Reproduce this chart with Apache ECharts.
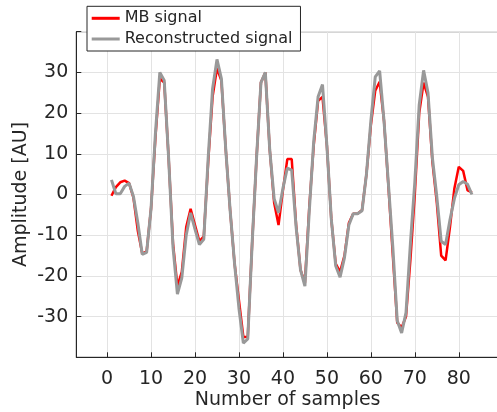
<!DOCTYPE html>
<html>
<head>
<meta charset="utf-8">
<script src="https://cdn.jsdelivr.net/npm/echarts@6/dist/echarts.min.js"></script>
<style>
html,body{margin:0;padding:0;background:#fff;}
#chart{width:497px;height:412px;}
</style>
</head>
<body>
<div id="chart"></div>
<script>
// Series names
const seriesNames = ['MB signal', 'Reconstructed signal'];
// MB signal values for samples 1..83
const mbSignal = [
  -0.3, 1.8, 3.0, 3.4, 2.8, -0.8, -9, -14.5, -14, -3.5,
  14, 28.5, 27.5, 9, -12, -22.5, -19, -8, -3.5, -7.5,
  -11.5, -10.3, 8, 24, 31, 28, 11, -4, -17, -26,
  -35, -35, -12, 9, 27.5, 30, 11, -2, -7.5, 1,
  8.7, 8.7, -7.5, -18.5, -21.7, -3, 12, 23, 24, 12,
  -6, -17, -19, -15, -7, -4.7, -4.7, -3.8, 5, 17,
  25.5, 27.7, 18, 2, -15, -31.5, -32.7, -30, -16, 0,
  20, 27.5, 24, 8, -2, -15, -16.2, -8, 1.5, 6.8,
  5.8, 1, 0.5
];
// Reconstructed signal values for samples 1..83
const reconSignal = [
  3.6, 0.2, 0.2, 2, 2.8, -0.5, -7, -14.7, -14.2, -3.5,
  15, 30, 28, 9, -13, -24.5, -20.5, -10, -4.5, -8.5,
  -12.3, -11, 9, 26, 33.2, 28.5, 11, -4, -17, -28,
  -36.5, -35.5, -12, 9, 27.5, 30, 11, -1, -4.5, 1.5,
  6.5, 6, -8, -18.5, -22.5, -4, 13, 24, 27, 12,
  -6, -17.5, -20.3, -15.5, -7.5, -4.7, -4.7, -4, 5, 18,
  28.9, 30.4, 18, 2.5, -13, -31, -34, -29, -12, 3,
  22, 30.5, 25, 9, -0.5, -11.5, -12.3, -6.2, -1, 2.4,
  3.2, 2.5, 0
];
// Tick labels
const xTicks = [0, 10, 20, 30, 40, 50, 60, 70, 80];
const yTicks = [-30, -20, -10, 0, 10, 20, 30];

const toPairs = arr => arr.map((v, i) => [i + 1, v]);
const font = 'DejaVu Sans';
const txt = '#262626';

const chart = echarts.init(document.getElementById('chart'), null, {renderer: 'canvas'});
chart.setOption({
  animation: false,
  backgroundColor: '#fff',
  grid: {
    left: 76.3, top: 31.7, right: -2, bottom: 54.7,
    outerBoundsMode: 'none', containLabel: false,
    show: true, borderColor: '#262626', borderWidth: 1, backgroundColor: '#fff'
  },
  legend: {
    orient: 'vertical',
    left: 87, top: 6.3,
    padding: [3, 8, 3, 4.7],
    itemGap: 2.7,
    itemWidth: 28, itemHeight: 3,
    backgroundColor: '#fff',
    borderColor: '#262626', borderWidth: 1, borderRadius: 0,
    textStyle: {fontFamily: font, fontSize: 16, color: txt, lineHeight: 18},
    data: [
      {name: seriesNames[0], icon: 'rect', itemStyle: {color: '#ff0000'}},
      {name: seriesNames[1], icon: 'rect', itemStyle: {color: '#999999'}}
    ]
  },
  xAxis: {
    type: 'value', min: -7, max: 89.15,
    name: 'Number of samples', nameLocation: 'middle', nameGap: 33,
    nameMoveOverlap: false,
    nameTextStyle: {fontFamily: font, fontSize: 19, color: txt},
    axisLine: {show: true, onZero: false, lineStyle: {color: '#262626', width: 1}},
    axisTick: {show: true, inside: true, length: 5, customValues: xTicks, lineStyle: {color: '#262626'}},
    axisLabel: {customValues: xTicks, fontFamily: font, fontSize: 19, color: txt, margin: 12},
    splitLine: {show: true, lineStyle: {color: '#e3e3e3', width: 1}}
  },
  yAxis: {
    type: 'value', min: -40, max: 40, interval: 10,
    name: 'Amplitude [AU]', nameLocation: 'middle', nameGap: 46,
    nameMoveOverlap: false,
    nameTextStyle: {fontFamily: font, fontSize: 19, color: txt},
    axisLine: {show: true, onZero: false, lineStyle: {color: '#262626', width: 1}},
    axisTick: {show: true, inside: true, length: 5, lineStyle: {color: '#262626'}},
    axisLabel: {
      fontFamily: font, fontSize: 19, color: txt, margin: 8,
      formatter: v => (yTicks.indexOf(v) >= 0 ? String(v) : '')
    },
    splitLine: {show: true, lineStyle: {color: '#e3e3e3', width: 1}}
  },
  series: [
    {
      name: seriesNames[0], type: 'line', data: toPairs(mbSignal),
      showSymbol: false, symbol: 'none',
      lineStyle: {color: '#ff0000', width: 2.5}, itemStyle: {color: '#ff0000'}
    },
    {
      name: seriesNames[1], type: 'line', data: toPairs(reconSignal),
      showSymbol: false, symbol: 'none',
      lineStyle: {color: '#999999', width: 3}, itemStyle: {color: '#999999'}
    }
  ]
});
</script>
</body>
</html>
